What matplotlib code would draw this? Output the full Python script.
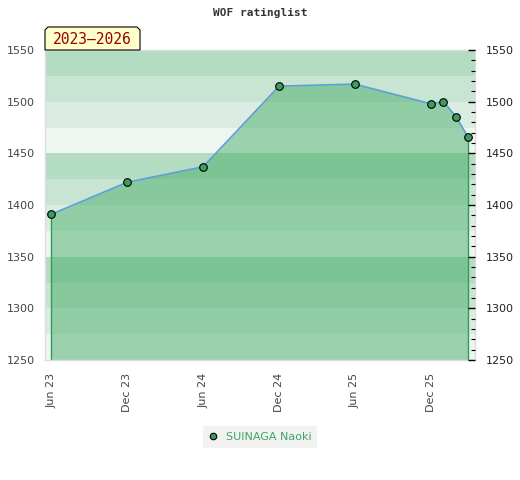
import matplotlib
matplotlib.use("Agg")
import matplotlib.pyplot as plt
import matplotlib.dates as mdates
from matplotlib.patches import Polygon
from matplotlib.ticker import MultipleLocator
import datetime as dt

# ---- data ----
dates = [dt.date(2023, 6, 1), dt.date(2023, 12, 1), dt.date(2024, 6, 1),
         dt.date(2024, 12, 1), dt.date(2025, 6, 1), dt.date(2025, 12, 1),
         dt.date(2026, 1, 1), dt.date(2026, 2, 1), dt.date(2026, 3, 1)]
ratings = [1391, 1422, 1437, 1515, 1517, 1498, 1500, 1485, 1466]
player = "SUINAGA Naoki"
title = "WOF ratinglist"
period = "2023\u20132026"
tick_dates = [dt.date(2023, 6, 1), dt.date(2023, 12, 1), dt.date(2024, 6, 1),
              dt.date(2024, 12, 1), dt.date(2025, 6, 1), dt.date(2025, 12, 1)]
y_min, y_max = 1250, 1550
band_colors = ['#eef6f1', '#dbede2', '#c8e5d3', '#b3dcc2']

fig = plt.figure(figsize=(5.2, 4.8), dpi=100)
ax = fig.add_axes([45/520, 1-360/480, 430/520, 310/480])

# background bands
for i, lo in enumerate(range(y_min, y_max, 25)):
    ax.axhspan(lo, lo + 25, color=band_colors[i % 4], lw=0, zorder=0)

ax.fill_between(dates, ratings, y_min, color='#3faa62', alpha=0.47, lw=0, zorder=1)
ax.vlines([dates[0], dates[-1]], y_min, [ratings[0], ratings[-1]],
          color='#2f9e55', lw=1, zorder=2)
ax.plot(dates, ratings, color='#5b9fd6', lw=1.2, zorder=3)
ax.plot(dates, ratings, 'o', color='#3a9d5d', markeredgecolor='black',
        markeredgewidth=0.8, markersize=5.5, zorder=4, label=player)

ax.set_ylim(y_min, y_max)
ax.set_xlim(dt.date(2023, 5, 17), dt.date(2026, 3, 18))
ax.set_xticks(tick_dates)
ax.xaxis.set_major_formatter(mdates.DateFormatter('%b %y'))
ax.tick_params(axis='x', length=0, pad=9, labelsize=8, labelcolor='#444444',
               labelrotation=90)
ax.yaxis.set_major_locator(MultipleLocator(50))
ax.tick_params(axis='y', which='both', length=0, pad=7, labelsize=8,
               labelcolor='#444444')
for s in ax.spines.values():
    s.set_color('#dddddd')
    s.set_linewidth(1)

ax2 = ax.twinx()
ax2.set_ylim(y_min, y_max)
ax2.yaxis.set_major_locator(MultipleLocator(50))
ax2.yaxis.set_minor_locator(MultipleLocator(10))
ax2.tick_params(axis='y', which='major', direction='in', length=5, width=1,
                color='black', pad=8, labelsize=8, labelcolor='#222222')
ax2.tick_params(axis='y', which='minor', direction='in', length=3, width=0.8,
                color='black')
for s in ax2.spines.values():
    s.set_visible(False)

fig.text(0.5, 1-13/480, title, ha='center', va='center',
         family='DejaVu Sans Mono', weight='bold', fontsize=8, color='#333333')

# period badge
x0, x1 = 45/520, 140/520
y0, y1 = 1-50/480, 1-27/480
cx, cy = 3/520, 3/480
badge = Polygon([(x0, y0), (x0, y1 - cy), (x0 + cx, y1), (x1 - cx, y1),
                 (x1, y1 - cy), (x1, y0)], closed=True, transform=fig.transFigure,
                facecolor='#ffffcc', edgecolor='black', lw=0.8, zorder=10)
fig.patches.append(badge)
fig.text((x0 + x1)/2, (y0 + y1)/2 - 1/480, period, ha='center', va='center',
         family='DejaVu Sans Mono', fontsize=10.5, color='#990000', zorder=11)

leg = fig.legend(handles=[ax.lines[-1]], loc='center',
                 bbox_to_anchor=(260/520, 1-437/480), frameon=True, fontsize=8,
                 handlelength=0.8, handletextpad=0.8, borderpad=0.5,
                 markerscale=0.85)
leg.get_frame().set_facecolor('#efefef')
leg.get_frame().set_edgecolor('none')
leg.get_frame().set_boxstyle('square', pad=0)
for t in leg.get_texts():
    t.set_color('#3aa85e')

fig.savefig('out.png', dpi=100)
